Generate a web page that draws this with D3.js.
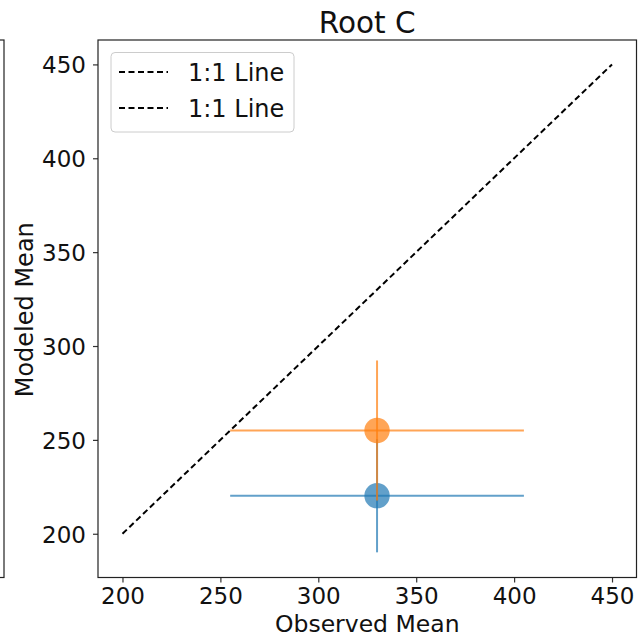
<!DOCTYPE html>
<html><head><meta charset="utf-8">
<script src="https://cdn.jsdelivr.net/npm/d3@7"></script>
<style>body{margin:0;background:#fff}svg{display:block;font-family:"DejaVu Sans",sans-serif}</style>
</head><body><svg id="c" width="639" height="638"></svg>
<script>
const title = "Root C";
const xLabel = "Observed Mean";
const yLabel = "Modeled Mean";
const seriesNames = ["A", "B"];
const seriesColors = ["#1f77b4", "#ff7f0e"];
const obsMean = [330, 330];
const modMean = [220.3, 255];
const obsErr = [75, 75];
const modErr = [30.2, 37.3];
const oneToOne = [200, 450];
const legendLabels = ["1:1 Line", "1:1 Line"];
const xTicks = [200, 250, 300, 350, 400, 450];
const yTicks = [200, 250, 300, 350, 400, 450];

const svg = d3.select("#c");
const L = 98, R = 636.5, T = 40, B = 577.5;
const x = d3.scaleLinear().domain([187.5, 462.5]).range([L, R]);
const y = d3.scaleLinear().domain([176.7, 463]).range([B, T]);

// neighbouring subplot edge
svg.append("rect").attr("x", -10).attr("y", T).attr("width", 14).attr("height", B - T)
  .attr("fill", "none").attr("stroke", "#222").attr("stroke-width", 1.2);

// 1:1 line
svg.append("line").attr("x1", x(oneToOne[0])).attr("y1", y(oneToOne[0]))
  .attr("x2", x(oneToOne[1])).attr("y2", y(oneToOne[1]))
  .attr("stroke", "#000").attr("stroke-width", 2).attr("stroke-dasharray", "6,3.5");

// error bars + points
const g = svg.append("g");
obsMean.forEach((d, i) => {
  const c = seriesColors[i];
  g.append("line").attr("x1", x(d - obsErr[i])).attr("x2", x(d + obsErr[i]))
    .attr("y1", y(modMean[i])).attr("y2", y(modMean[i]))
    .attr("stroke", c).attr("stroke-width", 2).attr("stroke-opacity", 0.7);
  g.append("line").attr("x1", x(d)).attr("x2", x(d))
    .attr("y1", y(modMean[i] - modErr[i])).attr("y2", y(modMean[i] + modErr[i]))
    .attr("stroke", c).attr("stroke-width", 2).attr("stroke-opacity", 0.7);
  g.append("circle").attr("cx", x(d)).attr("cy", y(modMean[i])).attr("r", 12.7)
    .attr("fill", c).attr("fill-opacity", 0.7);
});

// axes
const xa = svg.append("g").attr("transform", `translate(0,${B})`)
  .call(d3.axisBottom(x).tickValues(xTicks).tickSize(5).tickPadding(5).tickFormat(d3.format("d")));
const ya = svg.append("g").attr("transform", `translate(${L},0)`)
  .call(d3.axisLeft(y).tickValues(yTicks).tickSize(5).tickPadding(7).tickFormat(d3.format("d")));
[xa, ya].forEach(a => {
  a.select(".domain").remove();
  a.attr("font-size", 23).attr("font-family", "DejaVu Sans");
  a.selectAll("text").attr("font-size", 23).attr("fill", "#111");
  a.selectAll("line").attr("stroke", "#333").attr("stroke-width", 1.2);
});
xa.selectAll("text").attr("dy", "0.71em");
ya.selectAll("text").attr("dy", "0.36em");
svg.append("rect").attr("x", L).attr("y", T).attr("width", R - L).attr("height", B - T)
  .attr("fill", "none").attr("stroke", "#222").attr("stroke-width", 1.2);

// title and labels
svg.append("text").attr("x", (L + R) / 2).attr("y", 33).attr("text-anchor", "middle")
  .attr("font-size", 29.5).attr("fill", "#111").text(title);
svg.append("text").attr("x", (L + R) / 2).attr("y", 632).attr("text-anchor", "middle")
  .attr("font-size", 23.5).attr("fill", "#111").text(xLabel);
svg.append("text").attr("transform", `translate(33,${(T + B) / 2 + 1}) rotate(-90)`)
  .attr("text-anchor", "middle").attr("font-size", 24).attr("fill", "#111").text(yLabel);

// legend
const lg = svg.append("g");
lg.append("rect").attr("x", 111).attr("y", 52.5).attr("width", 183).attr("height", 79.5)
  .attr("rx", 4).attr("fill", "#fff").attr("fill-opacity", 0.8)
  .attr("stroke", "#ccc").attr("stroke-width", 1);
legendLabels.forEach((t, i) => {
  const yy = 72 + i * 36;
  lg.append("line").attr("x1", 119).attr("x2", 168).attr("y1", yy).attr("y2", yy)
    .attr("stroke", "#000").attr("stroke-width", 2).attr("stroke-dasharray", "6,3.5");
  lg.append("text").attr("x", 188).attr("y", yy + 9).attr("font-size", 24)
    .attr("fill", "#111").text(t);
});
</script></body></html>
